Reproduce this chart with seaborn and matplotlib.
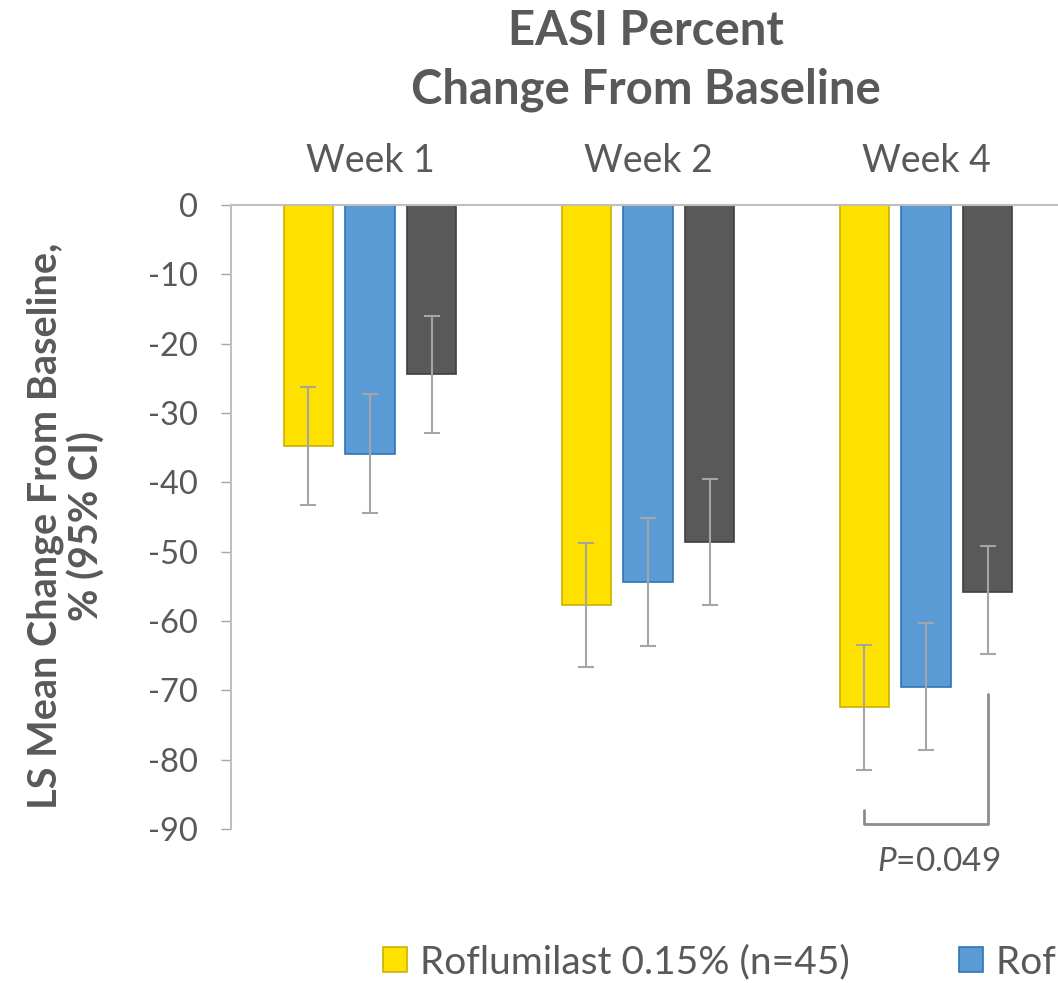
import pandas as pd
import seaborn as sns
import matplotlib.pyplot as plt
from matplotlib.patches import Patch

sns.set_style("white")
plt.rcParams['font.family'] = ['Lato', 'DejaVu Sans']
plt.rcParams['mathtext.fontset'] = 'custom'
plt.rcParams['mathtext.it'] = 'Lato:italic'
plt.rcParams['mathtext.rm'] = 'Lato'
plt.rcParams['axes.unicode_minus'] = False

# data
weeks = ["Week 1", "Week 2", "Week 4"]
groups = ["Roflumilast 0.15% (n=45)", "Roflumilast 0.05% (n=45)", "Vehicle (n=46)"]

mean_015 = [-34.8, -57.7, -72.4]
mean_005 = [-35.9, -54.4, -69.5]
mean_veh = [-24.4, -48.6, -55.8]

# 95% CI (upper, lower)
ci_hi_015 = [-26.3, -48.8, -63.5]
ci_lo_015 = [-43.3, -66.6, -81.5]
ci_hi_005 = [-27.3, -45.1, -60.3]
ci_lo_005 = [-44.4, -63.6, -78.6]
ci_hi_veh = [-16.0, -39.5, -49.2]
ci_lo_veh = [-32.9, -57.7, -64.8]

p_label = r"$\mathit{P}$=0.049"
p_left_top = -87.3
p_right_top = -70.5
p_bottom = -89.3

fills = ["#FFE100", "#5B9BD5", "#595959"]
edges = ["#C9B200", "#2E75B6", "#3F3F3F"]
text_col = "#595959"

df = pd.DataFrame({
    "week": weeks * 3,
    "group": [g for g in groups for _ in weeks],
    "mean": mean_015 + mean_005 + mean_veh,
})
ci_hi = [ci_hi_015, ci_hi_005, ci_hi_veh]
ci_lo = [ci_lo_015, ci_lo_005, ci_lo_veh]

fig = plt.figure(figsize=(10.58, 9.83), dpi=100)
ax = fig.add_axes([231 / 1058, 1 - 829 / 983, 834 / 1058, 624 / 983])

sns.barplot(data=df, x="week", y="mean", hue="group", hue_order=groups,
            palette=fills, saturation=1, errorbar=None, width=0.664, gap=0.2,
            ax=ax, legend=False)

bar_sets = list(ax.containers)
for i, cont in enumerate(bar_sets):
    for bar in cont:
        bar.set_edgecolor(edges[i])
        bar.set_linewidth(1.2)
    xs = [b.get_x() + b.get_width() / 2 for b in cont]
    ys = [b.get_height() for b in cont]
    lo = [y - l for y, l in zip(ys, ci_lo[i])]
    hi = [h - y for y, h in zip(ys, ci_hi[i])]
    ax.errorbar(xs, ys, yerr=[lo, hi], fmt="none", ecolor="#A5A5A5",
                elinewidth=1.5, capsize=6, capthick=1.5)

# P-value bracket between 0.15% and vehicle at week 4
x_a = bar_sets[0][2].get_x() + bar_sets[0][2].get_width() / 2
x_b = bar_sets[2][2].get_x() + bar_sets[2][2].get_width() / 2
ax.plot([x_a, x_a, x_b, x_b], [p_left_top, p_bottom, p_bottom, p_right_top],
        color="#8C8C8C", lw=2, clip_on=False)
ax.annotate(p_label, ((x_a + x_b) / 2, p_bottom - 5.5), xytext=(9, 0),
            textcoords="offset points", ha="center", va="center",
            fontsize=24, color=text_col, annotation_clip=False)

ax.set_xlim(-0.5, len(weeks) - 0.5)
ax.set_ylim(-90, 0)
ax.set_yticks(range(0, -91, -10))
ax.set_xlabel("")
ax.set_ylabel("")
ax.xaxis.tick_top()
ax.tick_params(axis="x", length=0, pad=19, labelsize=27, labelcolor=text_col)
ax.tick_params(axis="y", left=True, length=7, width=1, color="#A6A6A6",
               pad=17, labelsize=23.5, labelcolor=text_col)
for s in ["bottom", "right"]:
    ax.spines[s].set_visible(False)
for s in ["top", "left"]:
    ax.spines[s].set_color("#BFBFBF")
    ax.spines[s].set_linewidth(1.5)

fig.text(646 / 1058, 1 - 45 / 983, "EASI Percent", ha="center", va="baseline",
         fontsize=34, fontweight="bold", color=text_col)
fig.text(646 / 1058, 1 - 103 / 983, "Change From Baseline", ha="center",
         va="baseline", fontsize=34, fontweight="bold", color=text_col)
fig.text(66 / 1058, 1 - 526 / 983, "LS Mean Change From Baseline,\n% (95% CI)",
         rotation=90, ha="center", va="center", multialignment="center",
         fontsize=28.5, fontweight="bold", color=text_col, linespacing=1.12)

handles = [Patch(facecolor=f, edgecolor=e, linewidth=1.2) for f, e in zip(fills, edges)]
fig.legend(handles, groups, loc="center left",
           bbox_to_anchor=(383 / 1058, 1 - 962 / 983), ncol=3, frameon=False,
           fontsize=28, labelcolor=text_col, handlelength=0.62, handleheight=0.62,
           handletextpad=0.33, columnspacing=2.8, borderpad=0, borderaxespad=0)

fig.savefig("out.png", dpi=100)
